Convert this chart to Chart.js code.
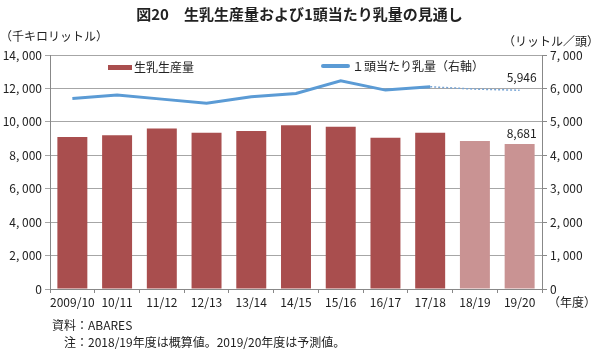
<!DOCTYPE html>
<html lang="ja">
<head>
<meta charset="utf-8">
<script src="https://cdn.jsdelivr.net/npm/chart.js@4"></script>
<style>
  html, body { margin: 0; padding: 0; background: #fff; }
  body { width: 599px; height: 353px; position: relative; overflow: hidden;
         font-family: "Noto Sans CJK JP", "Noto Sans", sans-serif; color: #222; }
  #chart { position: absolute; left: 0; top: 0; }
  .txt { position: absolute; white-space: nowrap; font-size: 12px; line-height: 1; }
  #title { left: 0; width: 599px; top: 6px; text-align: center; font-size: 15px; font-weight: bold; }
</style>
</head>
<body>
<canvas id="chart" width="599" height="353"></canvas>
<div id="title" class="txt">図20　生乳生産量および1頭当たり乳量の見通し</div>
<div class="txt" style="left:0; top:30px;">（千キロリットル）</div>
<div class="txt" style="right:0; top:35px;">（リットル／頭）</div>
<div class="txt" style="left:548px; top:296px;">（年度）</div>
<div class="txt" style="left:52px; top:319px;">資料：ABARES</div>
<div class="txt" style="left:64px; top:336px;">注：2018/19年度は概算値。2019/20年度は予測値。</div>
<script>
// fiscal years
const years = ['2009/10', '10/11', '11/12', '12/13', '13/14', '14/15', '15/16', '16/17', '17/18', '18/19', '19/20'];
// raw milk production (thousand litres)
const production = [9100, 9200, 9600, 9350, 9450, 9800, 9700, 9050, 9350, 8850, 8681];
// milk yield per cow (litres/head)
const yieldPerCow = [5700, 5800, 5680, 5560, 5750, 5850, 6230, 5950, 6050, 5980, 5946];
// first index that is estimate / forecast
const estimateFrom = 9;

const fmtTick = v => v >= 1000 ? Math.floor(v / 1000) + ', ' + String(v % 1000).padStart(3, '0') : String(v);
const fmtLabel = v => v.toLocaleString('en-US');

const barColors = production.map((v, i) => i >= estimateFrom ? '#C99393' : '#A94E4E');

// legend and value labels drawn inside the plot
const extras = {
    id: 'extras',
    afterDatasetsDraw(chart) {
        const ctx = chart.ctx;
        ctx.save();
        ctx.font = '12px "Noto Sans CJK JP", sans-serif';
        ctx.textBaseline = 'middle';
        // legend
        ctx.fillStyle = '#A94E4E';
        ctx.fillRect(108, 65, 24, 5);
        ctx.fillStyle = '#222';
        ctx.fillText('生乳生産量', 134, 67);
        ctx.strokeStyle = '#5B9BD5';
        ctx.lineWidth = 4;
        ctx.lineCap = 'round';
        ctx.beginPath();
        ctx.moveTo(323, 66);
        ctx.lineTo(348, 66);
        ctx.stroke();
        ctx.fillText('１頭当たり乳量（右軸）', 352, 66);

        // value labels for last year
        const last = years.length - 1;
        const lineEl = chart.getDatasetMeta(0).data[last];
        const barEl = chart.getDatasetMeta(1).data[last];
        ctx.textAlign = 'center';
        ctx.textBaseline = 'bottom';
        ctx.fillText(fmtLabel(production[last]), barEl.x + 2, barEl.y - 4);
        ctx.fillText(fmtLabel(yieldPerCow[last]), lineEl.x + 2, lineEl.y - 7);
        ctx.restore();
    }
};

const dashed = c => c.p0DataIndex >= estimateFrom - 1;

new Chart(document.getElementById('chart'), {
    data: {
        labels: years,
        datasets: [
            {
                type: 'line',
                label: '１頭当たり乳量（右軸）',
                data: yieldPerCow,
                yAxisID: 'y1',
                borderColor: '#5B9BD5',
                borderWidth: 3,
                pointRadius: 0,
                tension: 0,
                order: 0,
                segment: {
                    borderDash: c => dashed(c) ? [2, 2] : undefined,
                    borderWidth: c => dashed(c) ? 1.5 : 3,
                    borderColor: c => dashed(c) ? '#79A6D6' : '#5B9BD5'
                }
            },
            {
                type: 'bar',
                label: '生乳生産量',
                data: production,
                yAxisID: 'y',
                backgroundColor: barColors,
                barPercentage: 0.67,
                categoryPercentage: 1,
                order: 1
            }
        ]
    },
    options: {
        responsive: false,
        animation: false,
        events: [],
        layout: { padding: { top: 55, left: 0, right: 0, bottom: 0 } },
        plugins: { legend: { display: false }, tooltip: { enabled: false } },
        scales: {
            x: {
                offset: true,
                grid: { display: true, drawOnChartArea: false, offset: true, tickLength: 4, color: '#888' },
                border: { color: '#888' },
                ticks: { color: '#222', font: { size: 12, family: '"Noto Sans CJK JP", sans-serif' }, padding: 2, maxRotation: 0, autoSkip: false },
                afterFit: s => { s.height = 64; }
            },
            y: {
                position: 'left',
                min: 0, max: 14000,
                grid: { color: '#A6A6A6', tickLength: 5 },
                border: { color: '#888' },
                ticks: { stepSize: 2000, color: '#222', font: { size: 12, family: '"Noto Sans CJK JP", sans-serif' }, padding: 3, callback: v => fmtTick(v) },
                afterFit: s => { s.width = 50; }
            },
            y1: {
                position: 'right',
                min: 0, max: 7000,
                grid: { drawOnChartArea: false, tickLength: 5, color: '#888' },
                border: { color: '#888' },
                ticks: { stepSize: 1000, color: '#222', font: { size: 12, family: '"Noto Sans CJK JP", sans-serif' }, padding: 3, callback: v => fmtTick(v) },
                afterFit: s => { s.width = 57; }
            }
        }
    },
    plugins: [extras]
});
</script>
</body>
</html>
